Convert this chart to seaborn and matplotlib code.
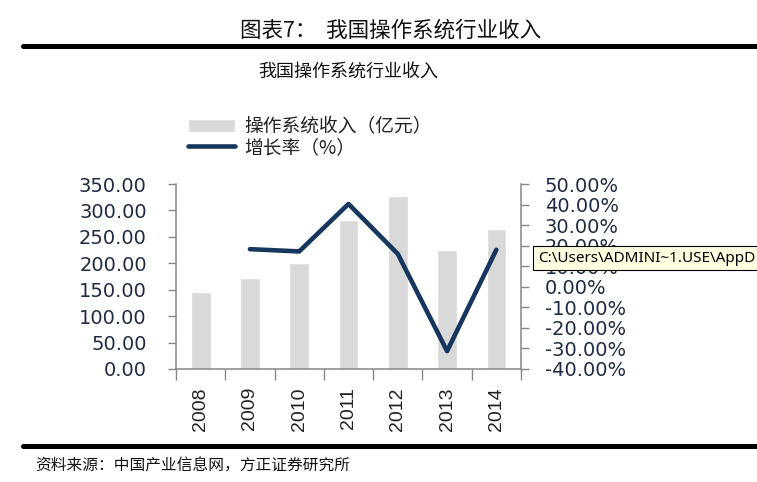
import numpy as np
import matplotlib
matplotlib.use('Agg')
import matplotlib.pyplot as plt
from matplotlib.lines import Line2D
from matplotlib.ticker import FixedLocator, FuncFormatter
import seaborn as sns

sns.set_style('white')
plt.rcParams['font.family'] = ['Noto Sans CJK SC', 'DejaVu Sans']
plt.rcParams['axes.unicode_minus'] = False

# ---Data---
years = ['2008', '2009', '2010', '2011', '2012', '2013', '2014']
revenue = [145.0, 171.5, 201.0, 282.0, 327.0, 224.5, 265.0]      # 亿元
growth = [np.nan, 18.3, 17.2, 40.3, 16.0, -31.3, 18.0]           # %

bar_color = '#D9D9D9'
line_color = '#17365D'
spine_color = '#868686'
num_color = '#1F2A44'

fig = plt.figure(figsize=(7.57, 4.82), dpi=100)
ax = fig.add_axes([176 / 757, 113 / 482, 345 / 757, 185 / 482])

sns.barplot(x=years, y=revenue, color=bar_color, saturation=1, width=0.4, ax=ax)
ax.set_xlim(-0.5, 6.5)
ax.set_ylim(0, 350)
ax.set_yticks(np.arange(0, 351, 50))
ax.yaxis.set_major_formatter(FuncFormatter(lambda v, p: f'{v:.2f}'))

ax2 = ax.twinx()
sns.lineplot(x=np.arange(len(years)), y=growth, color=line_color, linewidth=3.3, ax=ax2)
ax2.set_ylim(-40, 50)
ax2.set_yticks(np.arange(-40, 51, 10))
ax2.yaxis.set_major_formatter(FuncFormatter(lambda v, p: f'{v:.2f}%'))

# x ticks: marks on the category boundaries, labels in the middle
ax.set_xticks(np.arange(len(years)))
ax.set_xticklabels(years, rotation=90, fontfamily='Liberation Sans', fontsize=14, color='#222222')
ax.xaxis.set_minor_locator(FixedLocator(np.arange(-0.5, len(years), 1)))
ax.tick_params(axis='x', which='major', length=0, pad=13)
ax.tick_params(axis='x', which='minor', length=8, width=1, color=spine_color, direction='out', bottom=True)
ax.tick_params(axis='y', length=6, width=1, color=spine_color, direction='out', left=True, pad=15,
               labelsize=14, labelcolor=num_color)
ax2.tick_params(axis='y', length=6, width=1, color=spine_color, direction='out', right=True, pad=11,
                labelsize=14, labelcolor=num_color)
for lab in ax.get_yticklabels() + ax2.get_yticklabels():
    lab.set_fontfamily('DejaVu Sans')

ax.set_xlabel('')
ax.set_ylabel('')
ax2.set_xlabel('')
ax2.set_ylabel('')
for a in (ax, ax2):
    for s in a.spines.values():
        s.set_visible(False)
        s.set_color(spine_color)
        s.set_linewidth(1.1)
ax.spines['left'].set_visible(True)
ax.spines['bottom'].set_visible(True)
ax2.spines['right'].set_visible(True)

# legend
handles = [ax.patches[0], ax2.lines[0]]
labels = ['操作系统收入（亿元）', '增长率（%）']
leg = ax.legend(handles, labels, loc='upper left', bbox_to_anchor=(188 / 757, 1 - 116 / 482),
                bbox_transform=fig.transFigure, frameon=False, fontsize=13.5,
                handlelength=2.5, handletextpad=0.5, labelspacing=0.0,
                borderpad=0, borderaxespad=0)
for t in leg.get_texts():
    t.set_color('#222222')

# titles and rules
fig.text(391 / 757, 1 - 31 / 482, '图表7：  我国操作系统行业收入', ha='center', va='center',
         fontsize=15.5, color='#111111')
fig.add_artist(Line2D([23 / 757, 1.0], [1 - 46 / 482, 1 - 46 / 482], color='black', linewidth=3.6,
                      transform=fig.transFigure))
fig.text(348 / 757, 1 - 72 / 482, '我国操作系统行业收入', ha='center', va='center',
         fontsize=13, color='#111111')
fig.add_artist(Line2D([23 / 757, 1.0], [1 - 446 / 482, 1 - 446 / 482], color='black', linewidth=3.6,
                      transform=fig.transFigure))
fig.text(35 / 757, 1 - 466 / 482, '资料来源：中国产业信息网，方正证券研究所', ha='left', va='center',
         fontsize=11.3, color='#111111')

# path tooltip left on the captured chart
fig.text(538 / 757, 1 - 258 / 482, 'C:\\Users\\ADMINI~1.USE\\AppD', ha='left', va='center',
         fontsize=11, fontfamily='Noto Sans', color='black',
         bbox=dict(boxstyle='square,pad=0.3', fc='#FFFFE1', ec='black', lw=0.8))

fig.savefig('out.png', dpi=100)
